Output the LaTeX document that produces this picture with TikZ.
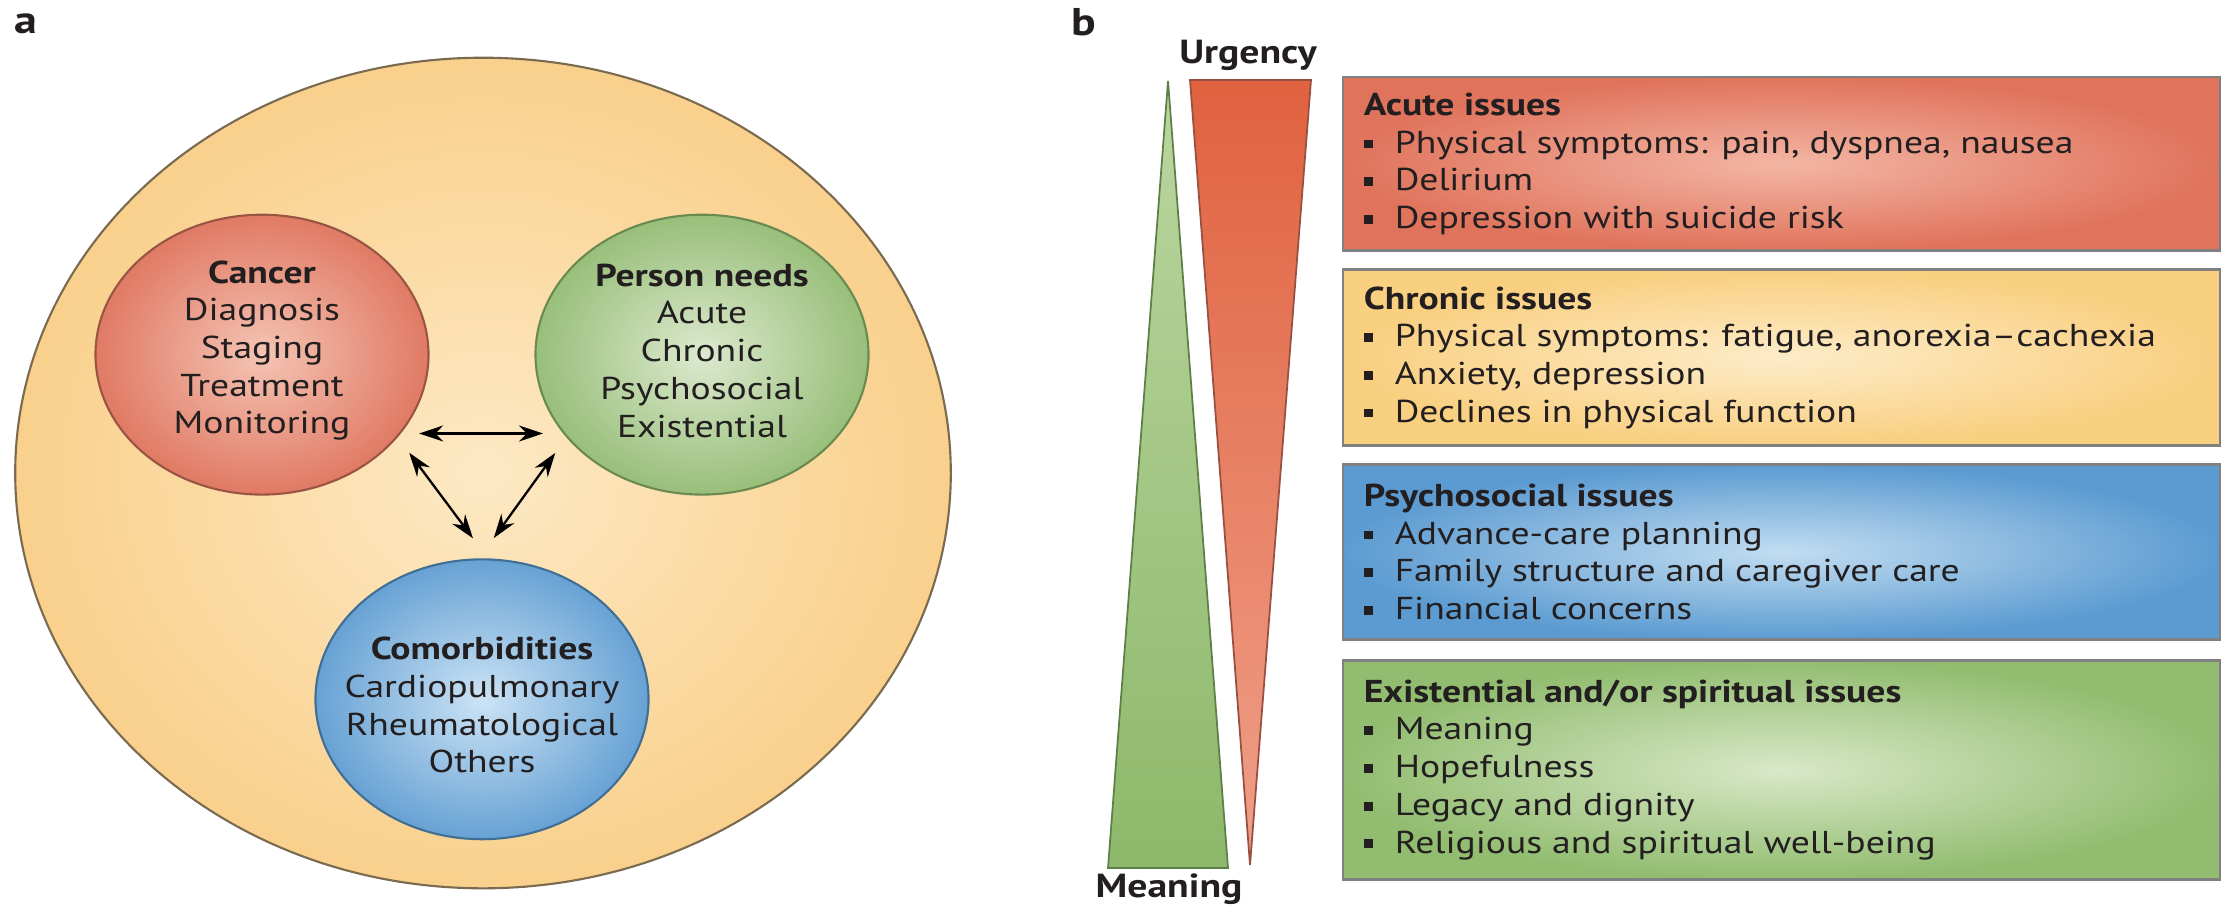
\documentclass[tikz,border=0pt]{standalone}
\usepackage{fontspec}
\setmainfont{PT Sans}
\usetikzlibrary{arrows.meta}
\definecolor{ink}{HTML}{231F20}
\definecolor{ellin}{HTML}{FDE9C4}
\definecolor{ellout}{HTML}{F9D08C}
\definecolor{elline}{HTML}{7A6A50}
\definecolor{canin}{HTML}{F5C4B4}
\definecolor{canout}{HTML}{E07A64}
\definecolor{canline}{HTML}{9A5444}
\definecolor{perin}{HTML}{DCE9CE}
\definecolor{perout}{HTML}{98BF7A}
\definecolor{perline}{HTML}{6A8A52}
\definecolor{comin}{HTML}{CCE3F5}
\definecolor{comout}{HTML}{67A2D4}
\definecolor{comline}{HTML}{416E94}
\definecolor{acin}{HTML}{F3B6A4}
\definecolor{acout}{HTML}{E0735C}
\definecolor{chin}{HTML}{FDECC8}
\definecolor{chout}{HTML}{F9CF80}
\definecolor{psin}{HTML}{C2DDF1}
\definecolor{psout}{HTML}{5C9BD1}
\definecolor{exin}{HTML}{D8E8C8}
\definecolor{exout}{HTML}{92BD70}
\definecolor{boxline}{HTML}{808080}
\definecolor{redtop}{HTML}{E0623F}
\definecolor{redbot}{HTML}{EFA08A}
\definecolor{redline}{HTML}{9A5040}
\definecolor{grtop}{HTML}{BAD6A0}
\definecolor{grbot}{HTML}{8DB86A}
\definecolor{grline}{HTML}{5E8048}
\newcommand{\bul}{\makebox[7.4pt][l]{\rule[0.15em]{2.1pt}{2.5pt}}}
\begin{document}
\begin{tikzpicture}[x=0.0084034cm, y=-0.01cm, xscale=1.19, transform shape,
  font=\fontsize{9}{10.73}\selectfont, text=ink,
  bubble/.style={circle, shade, minimum size=2.8cm, inner sep=0pt, line width=0.6pt},
  bubtext/.style={align=center, inner sep=0pt},
  panel/.style={font=\fontsize{11}{13}\selectfont\bfseries, inner sep=0pt},
  axislab/.style={font=\fontsize{9.5}{11}\selectfont\bfseries, inner sep=0pt},
  issue/.style={line width=0.8pt, draw=boxline},
  issuetext/.style={align=left, anchor=west, inner sep=0pt},
  link/.style={{Stealth[length=0.24cm,width=0.16cm]}-{Stealth[length=0.24cm,width=0.16cm]}, line width=0.65pt, black},
]
\fill[white] (0,0) rectangle (2226,911);
\useasboundingbox (0,0) rectangle (2226,911);

% panel labels
\node[panel] (la) at (26,24) {a};
\node[panel] (lb) at (1084,22) {b};

% panel a
\shadedraw[draw=elline, line width=0.6pt, inner color=ellin, outer color=ellout]
  (483,473.5) ellipse [x radius=3.933cm, y radius=4.155cm];

\node[bubble, draw=canline, inner color=canin, outer color=canout] (cancer) at (262,355) {};
\node[bubble, draw=perline, inner color=perin, outer color=perout] (person) at (702,355) {};
\node[bubble, draw=comline, inner color=comin, outer color=comout] (comorb) at (482,700) {};

\node[bubtext] (cancertxt) at (262,351) {\textbf{Cancer}\\Diagnosis\\Staging\\Treatment\\Monitoring};
\node[bubtext] (persontxt) at (702,351) {\textbf{Person needs}\\Acute\\Chronic\\Psychosocial\\Existential};
\node[bubtext] (comorbtxt) at (482,706) {\textbf{Comorbidities}\\Cardiopulmonary\\Rheumatological\\Others};

\draw[link, shorten <=0.18cm, shorten >=0.2cm] (cancer.-34) -- (person.214);
\draw[link, shorten <=0.19cm, shorten >=0.25cm] (cancer.-36.4) -- (comorb.88.7);
\draw[link, shorten <=0.19cm, shorten >=0.25cm] (person.216.4) -- (comorb.91.3);

% panel b
\node[axislab] (urg) at (1248,55) {Urgency};
\node[axislab] (mean) at (1169,890) {Meaning};

\shadedraw[draw=grline, line width=0.5pt, top color=grtop, bottom color=grbot]
  (1168,81) -- (1228,869) -- (1108,869) -- cycle;
\shadedraw[draw=redline, line width=0.5pt, top color=redtop, bottom color=redbot]
  (1190,80) -- (1311,80) -- (1250,866) -- cycle;

\shadedraw[issue, inner color=acin, outer color=acout] (1343,77) rectangle (2220,251);
\shadedraw[issue, inner color=chin, outer color=chout] (1343,270) rectangle (2220,446);
\shadedraw[issue, inner color=psin, outer color=psout] (1343,465) rectangle (2220,640);
\shadedraw[issue, inner color=exin, outer color=exout] (1343,661) rectangle (2220,880);

\node[issuetext] (acute) at (1363,164) {\textbf{Acute issues}\\\bul Physical symptoms: pain, dyspnea, nausea\\\bul Delirium\\\bul Depression with suicide risk};
\node[issuetext] (chronic) at (1363,358) {\textbf{Chronic issues}\\\bul Physical symptoms: fatigue, anorexia--cachexia\\\bul Anxiety, depression\\\bul Declines in physical function};
\node[issuetext] (psycho) at (1363,552.5) {\textbf{Psychosocial issues}\\\bul Advance-care planning\\\bul Family structure and caregiver care\\\bul Financial concerns};
\node[issuetext] (exist) at (1363,770.5) {\textbf{Existential and/or spiritual issues}\\\bul Meaning\\\bul Hopefulness\\\bul Legacy and dignity\\\bul Religious and spiritual well-being};
\end{tikzpicture}
\end{document}
